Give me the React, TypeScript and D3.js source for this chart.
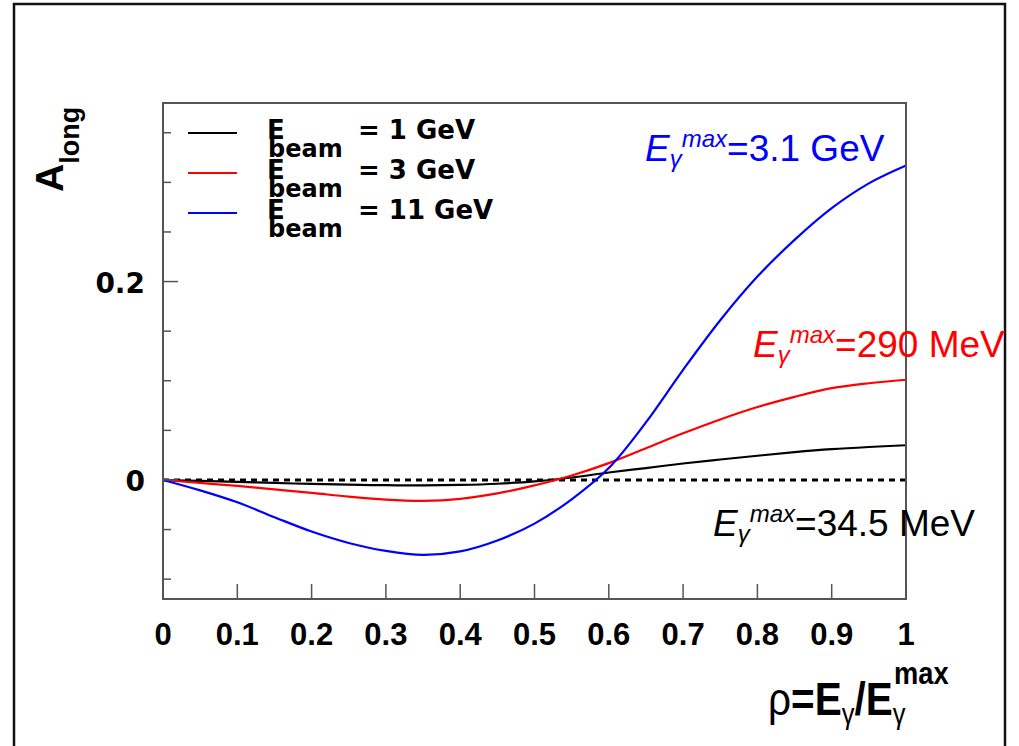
import React from 'react'
import * as d3 from 'd3'

// rho = E_gamma / E_gamma^max, sampled every 0.05
const rhoValues = [0, 0.05, 0.1, 0.15, 0.2, 0.25, 0.3, 0.35, 0.4, 0.45, 0.5, 0.55, 0.6, 0.65, 0.7, 0.75, 0.8, 0.85, 0.9, 0.95, 1.0]

// A_long
const along1GeV = [0, -0.001, -0.002, -0.003, -0.004, -0.0048, -0.0053, -0.0055, -0.005, -0.0038, -0.0015, 0.0025, 0.0075, 0.012, 0.0166, 0.0206, 0.0244, 0.028, 0.031, 0.0332, 0.035]
const along3GeV = [0, -0.003, -0.006, -0.0095, -0.013, -0.0168, -0.0198, -0.021, -0.019, -0.0135, -0.0055, 0.0045, 0.017, 0.032, 0.047, 0.061, 0.0735, 0.0838, 0.0925, 0.0975, 0.101]
const along11GeV = [0, -0.0105, -0.0225, -0.0375, -0.052, -0.0635, -0.0715, -0.0755, -0.072, -0.061, -0.044, -0.0195, 0.012, 0.058, 0.111, 0.161, 0.205, 0.242, 0.274, 0.299, 0.317]

const seriesColors = ['#000000', '#ff0000', '#0000ff']
const beamEnergies = ['1 GeV', '3 GeV', '11 GeV']
const maxPhotonEnergies = ['34.5 MeV', '290 MeV', '3.1 GeV']

const xTicks = [0, 0.1, 0.2, 0.3, 0.4, 0.5, 0.6, 0.7, 0.8, 0.9, 1]
const xTickLabels = ['0', '0.1', '0.2', '0.3', '0.4', '0.5', '0.6', '0.7', '0.8', '0.9', '1']
const yMajorTicks = [0, 0.2]
const yMajorLabels = ['0', '0.2']
const yMinorTicks = [-0.1, -0.05, 0.05, 0.1, 0.15, 0.25, 0.3, 0.35]

const W = 1019
const H = 746
const frame = { left: 163, right: 906, top: 103, bottom: 599 }

export default function App() {
    const x = d3.scaleLinear().domain([0, 1]).range([frame.left, frame.right])
    const y = d3.scaleLinear().domain([-0.12, 0.38]).range([frame.bottom, frame.top])

    const line = d3.line<number>()
        .x((_, i) => x(rhoValues[i]))
        .y(d => y(d))
        .curve(d3.curveCatmullRom.alpha(0.5))

    const series = [along1GeV, along3GeV, along11GeV]

    // where the E_gamma^max labels sit: [x, baseline]
    const notePos: [number, number][] = [[713, 536], [753, 357], [645, 161]]

    const helv = "'Liberation Sans', Arial, sans-serif"
    const dejavu = "'DejaVu Sans', sans-serif"
    const frameColor = '#555'

    return (
        <svg width={W} height={H} style={{ position: 'absolute', left: 0, top: 0, background: '#fff' }}>
            {/* outer canvas border */}
            <rect x={14} y={4} width={991} height={H + 10} fill="none" stroke="#111" strokeWidth={2.5} />

            {/* zero line */}
            <line x1={x(0)} x2={x(1)} y1={y(0)} y2={y(0)} stroke="#000" strokeWidth={3} strokeDasharray="6,5" />

            {series.map((s, i) => (
                <path key={`curve-${i}`} d={line(s) || ''} fill="none" stroke={seriesColors[i]} strokeWidth={2.2} />
            ))}

            {/* plot frame */}
            <rect x={frame.left} y={frame.top} width={frame.right - frame.left} height={frame.bottom - frame.top}
                  fill="none" stroke={frameColor} strokeWidth={2} />

            {/* x ticks */}
            {xTicks.map((t, i) => (
                <g key={`xt-${i}`}>
                    <line x1={x(t)} x2={x(t)} y1={frame.bottom} y2={frame.bottom - 15} stroke={frameColor} strokeWidth={1.5} />
                    <text x={x(t)} y={645} textAnchor="middle" fontFamily={helv} fontWeight="bold" fontSize={31}>{xTickLabels[i]}</text>
                </g>
            ))}

            {/* y ticks */}
            {yMajorTicks.map((t, i) => (
                <g key={`ymaj-${i}`}>
                    <line x1={frame.left} x2={frame.left + 15} y1={y(t)} y2={y(t)} stroke={frameColor} strokeWidth={1.5} />
                    <text x={145} y={y(t) + 11} textAnchor="end" fontFamily={dejavu} fontWeight="bold" fontSize={28}>{yMajorLabels[i]}</text>
                </g>
            ))}
            {yMinorTicks.map((t, i) => (
                <line key={`ymin-${i}`} x1={frame.left} x2={frame.left + 8} y1={y(t)} y2={y(t)} stroke={frameColor} strokeWidth={1.5} />
            ))}

            {/* y title */}
            <g transform="translate(63,192) rotate(-90)">
                <text fontFamily={helv} fontWeight="bold" fontSize={39}>
                    A<tspan fontSize={27} dy={16}>long</tspan>
                </text>
            </g>

            {/* x title */}
            <g transform="translate(768,715) scale(0.88,1)">
                <text fontFamily={helv} fontWeight="bold" fontSize={46}>
                    <tspan fontWeight="normal">ρ</tspan>=E<tspan fontSize={29} fontWeight="normal" dy={9}>γ</tspan>
                    <tspan dy={-9}>/E</tspan><tspan fontSize={29} fontWeight="normal" dy={9}>γ</tspan>
                    <tspan fontSize={31} dx={-13} dy={-40}>max</tspan>
                </text>
            </g>

            {/* legend */}
            {beamEnergies.map((b, i) => {
                const ly = 133 + i * 40
                return (
                    <g key={`leg-${i}`}>
                        <line x1={188} x2={237} y1={ly} y2={ly} stroke={seriesColors[i]} strokeWidth={2.2} />
                        <text x={267} y={ly + 6} fontFamily={dejavu} fontWeight="bold" fontSize={26}>E</text>
                        <text x={268} y={ly + 24} fontFamily={dejavu} fontWeight="bold" fontSize={24}>beam</text>
                        <text x={358} y={ly + 6} fontFamily={dejavu} fontWeight="bold" fontSize={26}>= {b}</text>
                    </g>
                )
            })}

            {/* E_gamma^max annotations */}
            {maxPhotonEnergies.map((e, i) => (
                <text key={`note-${i}`} x={notePos[i][0]} y={notePos[i][1]} fill={seriesColors[i]} fontFamily={helv} fontSize={37}>
                    <tspan fontStyle="italic">E</tspan>
                    <tspan fontStyle="italic" fontSize={24} dy={6}>γ</tspan>
                    <tspan fontStyle="italic" fontSize={24} dy={-20}>max</tspan>
                    <tspan dy={14}>={e}</tspan>
                </text>
            ))}
        </svg>
    )
}
